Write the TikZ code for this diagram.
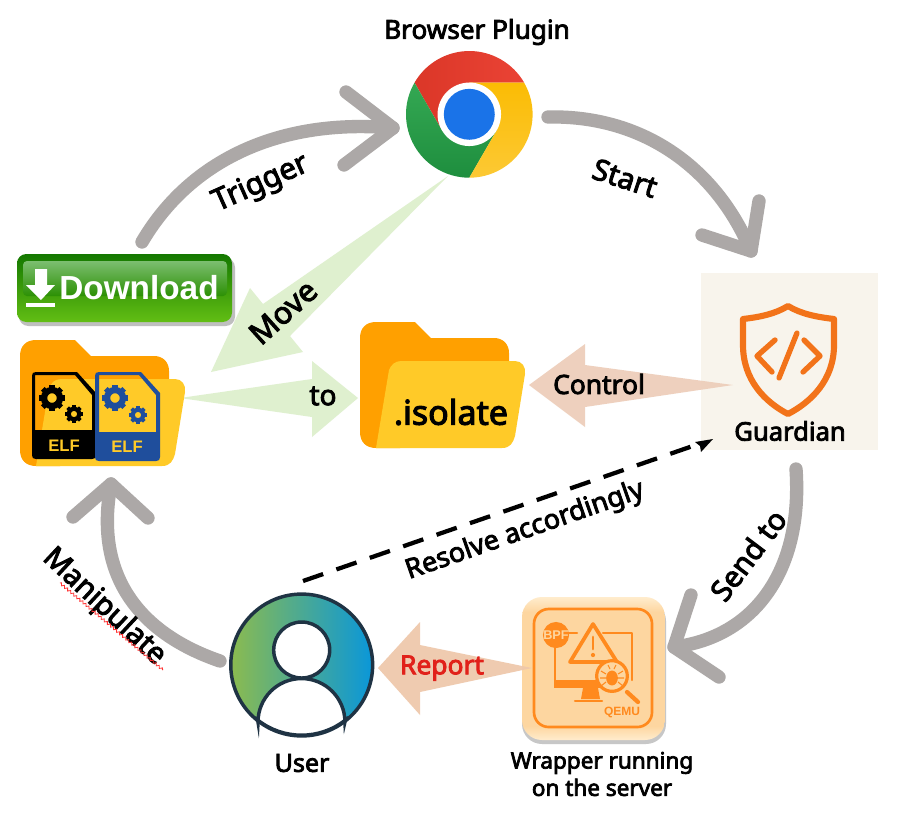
\documentclass[tikz,border=0pt]{standalone}
\usepackage{fontspec}
\setmainfont{Noto Sans}[FakeBold=3.2]
\newfontfamily\dlfont{Liberation Sans}
\usetikzlibrary{calc,decorations.pathmorphing}
\definecolor{grayarr}{HTML}{ACA8A7}
\definecolor{greenarr}{HTML}{DFF0CF}
\definecolor{peach}{HTML}{EDCDB9}
\definecolor{folderback}{HTML}{FFA000}
\definecolor{folderfront}{HTML}{FFCA28}
\definecolor{elfblue}{HTML}{1F4E9C}
\definecolor{guardbg}{HTML}{F8F4EC}
\definecolor{guardor}{HTML}{F2731A}
\definecolor{iconor}{HTML}{FF8A1E}
\definecolor{iconbg}{HTML}{FDD6A0}
\definecolor{iconhi}{HTML}{FFECCD}
\definecolor{userline}{HTML}{1F3344}
\definecolor{usergreen}{HTML}{8BBB4F}
\definecolor{userblue}{HTML}{0A97D9}
\definecolor{btntop}{HTML}{147800}
\definecolor{btnbot}{HTML}{62BE14}
\definecolor{glosstop}{HTML}{7CBE70}
\definecolor{glossbot}{HTML}{2C9004}
\definecolor{chrredA}{HTML}{DB3728}
\definecolor{chrredB}{HTML}{EA4335}
\definecolor{chrgreenA}{HTML}{34A853}
\definecolor{chrgreenB}{HTML}{1E8E3E}
\definecolor{chryelA}{HTML}{FBBC04}
\definecolor{chryelB}{HTML}{FCC934}
\definecolor{chrblue}{HTML}{1A73E8}
\definecolor{reportred}{HTML}{E1211A}
\tikzset{
  x=0.75pt,y=-0.75pt,
  curvearrow/.style={draw=grayarr,line width=10pt,line cap=round,line join=round},
  blockarrow/.style={fill=greenarr,draw=none},
  peacharrow/.style={fill=peach,draw=none,fill opacity=.92},
  lab/.style={inner sep=0pt,text=black,font=\fontsize{20}{24}\selectfont},
  elftext/.style={inner sep=0pt,font=\dlfont\bfseries\fontsize{12.5}{14}\selectfont,text=folderfront},
  shieldline/.style={draw=guardor,line width=4.6pt,line cap=round,line join=round}
}
\newcommand{\foldershape}{%
  \fill[folderback] (20,356) .. controls (20,346) and (26,340) .. (36,340) -- (75,340) -- (91,356) -- (154,356)
    .. controls (163,356) and (169,362) .. (169,371) -- (169,400) -- (60,466) -- (36,466)
    .. controls (26,466) and (20,460) .. (20,450) -- cycle;
  \fill[folderfront] (36,466) -- (49,388) .. controls (51,383) and (55,379) .. (61,379) -- (175,379)
    .. controls (182,379) and (186,385) .. (185,392) -- (175,454) .. controls (173,461) and (170,466) .. (162,466) -- cycle;
}
\newcommand{\gearicon}[4]{%
  \draw[#4,line width=0.36*#3pt] (#1,#2) circle[radius=0.46*#3pt];
  \foreach \a in {0,45,...,315}
    \draw[#4,line width=0.3*#3pt] ($(#1,#2)+(\a:0.7*#3)$) -- ($(#1,#2)+(\a:1.0*#3)$);
}
\begin{document}
\begin{tikzpicture}
\useasboundingbox (0,0) rectangle (905,815);
\fill[white] (0,0) rectangle (905,815);

% Guardian background
\fill[guardbg] (701,273) rectangle (878,450);

% Named attachment points
\coordinate (trigS) at (142,242);
\coordinate (trigT) at (393,128);
\coordinate (trigA) at (346,92);
\coordinate (trigB) at (344,165);
\coordinate (startS) at (548,117);
\coordinate (startT) at (751,251);
\coordinate (startA) at (759,201);
\coordinate (startB) at (702,235);
\coordinate (sendS) at (796,469);
\coordinate (sendT) at (674,647);
\coordinate (sendA) at (691,595);
\coordinate (sendB) at (719,677);
\coordinate (manS) at (220,661);
\coordinate (manT) at (111,484);
\coordinate (manA) at (73,517);
\coordinate (manB) at (148,518);
\coordinate (resS) at (303,581);
\coordinate (resT) at (713,439);

% Curved gray arrows
\draw[curvearrow] (trigS) .. controls (190,160) and (280,118) .. (trigT);
\draw[curvearrow] (trigA) -- (trigT) -- (trigB);
\draw[curvearrow] (startS) .. controls (640,115) and (715,165) .. (startT);
\draw[curvearrow] (startA) -- (startT) -- (startB);
\draw[curvearrow] (sendS) .. controls (803,570) and (755,637) .. (sendT);
\draw[curvearrow] (sendA) -- (sendT) -- (sendB);
\draw[curvearrow] (manS) .. controls (150,637) and (92,585) .. (manT);
\draw[curvearrow] (manA) -- (manT) -- (manB);

% Green block arrows
\fill[blockarrow] (448,176) -- (290,336) -- (303,352) -- (211,372) -- (250,288) -- (263,304) -- cycle;
\fill[blockarrow] (180,398) -- (312,379) -- (312,361) -- (358,398) -- (312,437) -- (312,417) -- cycle;

% Folders
\foldershape
\begin{scope}[shift={(340,-18)}]
\foldershape
\end{scope}

% ELF files
\fill[black,even odd rule] (32,376) .. controls (32,373) and (33,372) .. (36,372) -- (77,372) -- (96,393) -- (96,455) .. controls (96,458) and (95,459) .. (92,459) -- (36,459) .. controls (33,459) and (32,458) .. (32,455) -- cycle
  (35,375) -- (75,375) -- (92,395) -- (92,430) -- (35,430) -- cycle;
\gearicon{52}{398}{13}{black}
\gearicon{74}{414}{9}{black}
\node[elftext] (elfa) at (64,446) {ELF};
\fill[elfblue,even odd rule] (95,376) .. controls (95,373) and (96,372) .. (99,372) -- (141,372) -- (160,393) -- (160,457) .. controls (160,460) and (159,461) .. (156,461) -- (99,461) .. controls (96,461) and (95,460) .. (95,457) -- cycle
  (99,375) -- (139,375) -- (156,395) -- (156,432) -- (99,432) -- cycle;
\gearicon{115}{398}{13}{elfblue}
\gearicon{138}{415}{9}{elfblue}
\node[elftext] (elfb) at (127,447) {ELF};

% Download button
\fill[black!25,rounded corners=7pt] (19,258) rectangle (235,326);
\shade[rounded corners=7pt,top color=btntop,bottom color=btnbot] (17,254) rectangle (232,322);
\shade[rounded corners=3pt,top color=glosstop,bottom color=glossbot] (23,261) rectangle (227,296);
\fill[white] (35,269) -- (47,269) -- (47,285) -- (55,285) -- (41,300) -- (26,285) -- (35,285) -- cycle;
\fill[white] (26,303) rectangle (55,307);
\node[inner sep=0pt,text=white,font=\dlfont\bfseries\fontsize{25}{30}\selectfont] (dl) at (139,288) {Download};

% Chrome
\coordinate (cc) at (469.3,114.3);
\shade[left color=chrredA,right color=chrredB]
  (414.5,82.7) arc[start angle=150,end angle=30,radius=47.5pt] -- (469.3,82.6) -- (441.9,130.2) -- cycle;
\shade[top color=chrgreenA,bottom color=chrgreenB]
  (414.5,82.7) arc[start angle=150,end angle=270,radius=47.5pt] -- (496.8,130.2) -- (441.9,130.2) -- cycle;
\shade[top color=chryelA,bottom color=chryelB]
  (524.1,82.7) arc[start angle=30,end angle=-90,radius=47.5pt] -- (496.8,130.2) -- (469.3,82.6) -- cycle;
\fill[white] (cc) circle[radius=23.8pt];
\fill[chrblue] (cc) circle[radius=19.1pt];

% Shield
\draw[shieldline] (788,306) .. controls (775,314) and (760,317) .. (743,319) -- (743,345)
  .. controls (743,380) and (765,402) .. (788,414)
  .. controls (811,402) and (834,380) .. (834,345) -- (834,319)
  .. controls (817,317) and (801,314) .. (788,306) -- cycle;
\draw[shieldline,line width=4pt] (775,340) -- (757,356) -- (772,372);
\draw[shieldline,line width=4pt] (804,340) -- (820,356) -- (803,372);
\draw[shieldline,line width=4pt] (797,333) -- (779,378);

% Control arrow
\fill[peacharrow] (733,385) -- (585,407) -- (585,427) -- (529,385) -- (585,344) -- (585,365) -- cycle;

% Dashed arrow
\draw[line width=3.2pt,dash pattern=on 16pt off 10.5pt] (resS) -- ($(resT)!0.04!(resS)$);
\fill[black] (resT) -- (695,442) -- (700,446) -- (701,452) -- cycle;

% User
\shade[left color=usergreen,right color=userblue] (301.7,665) circle[radius=53.2pt];
\draw[userline,line width=2.6pt] (301.7,665) circle[radius=53.2pt];
\draw[userline,line width=2.6pt,fill=white] (258,722) arc[start angle=180,end angle=0,radius=32.6pt] -- (345.4,720)
  arc[start angle=-51.8,end angle=-128.2,radius=53.2pt] -- cycle;
\draw[userline,line width=2.6pt,fill=white] (301.7,650) circle[radius=21pt];

% Wrapper icon
\fill[black!22,rounded corners=15pt] (522,601) rectangle (666,744);
\begin{scope}
\clip[rounded corners=15pt] (522,597) rectangle (665,740);
\shade[top color=iconhi,bottom color=iconbg] (522,597) rectangle (665,612);
\fill[iconbg] (522,612) rectangle (665,726);
\shade[top color=iconbg,bottom color=iconhi] (522,726) rectangle (665,740);
\end{scope}
\draw[iconor,line width=2pt,rounded corners=11pt] (534,609) rectangle (652,727);
\fill[iconor] (556,635) circle[radius=9.8pt];
\node[inner sep=0pt,text=iconbg,font=\dlfont\bfseries\fontsize{9.5}{10}\selectfont] (bpf) at (556,635) {BPF};
\draw[iconor,line width=1.6pt,line cap=round] (568,633) -- (577,633);
\draw[iconor,line width=1.6pt,line cap=round,line join=round] (603,633) -- (632,633) -- (632,680);
\draw[iconor,line width=1.6pt] (555,646) -- (555,684);
\fill[iconor] (554,680) -- (600,680) -- (600,688) -- (554,688) -- cycle;
\fill[iconor] (583,688) -- (598,688) -- (600,699) -- (581,699) -- cycle;
\draw[iconor,line width=1.6pt,line cap=round] (575,701) -- (602,701);
\draw[iconor,line width=2.8pt,line cap=round,line join=round,fill=iconbg] (593,624) -- (617,662) -- (570,662) -- cycle;
\draw[iconor,line width=2.2pt,line cap=round] (593,637) -- (593,649);
\fill[iconor] (593,655) circle[radius=1.6pt];
\draw[iconor,line width=2.4pt,fill=iconbg] (612,676) circle[radius=11.5pt];
\fill[iconor] (612,678) ellipse[x radius=4.4pt,y radius=5.6pt];
\draw[iconor,line width=.8pt] (601,671) -- (606,674) (623,671) -- (618,674) (600,678) -- (606,678) (624,678) -- (618,678) (601,686) -- (606,682) (623,686) -- (618,682) (608,665) -- (610,669) (616,665) -- (614,669);
\draw[iconor,line width=3.2pt,line cap=round] (627,692) -- (638,702);
\node[inner sep=0pt,text=iconor,font=\dlfont\bfseries\fontsize{9}{10}\selectfont] (qemu) at (622,712) {QEMU};

% Report arrow
\fill[peacharrow,fill=peach!92!orange] (532,668) -- (420,692) -- (420,715) -- (378,668) -- (420,622) -- (420,645) -- cycle;

% Labels
\node[lab,font=\fontsize{19.6}{24}\selectfont] (browser) at (477,32) {Browser Plugin};
\node[lab,font=\fontsize{22.5}{26}\selectfont,rotate=24] (trigger) at (261,184) {Trigger};
\node[lab,font=\fontsize{22}{26}\selectfont,rotate=-18] (start) at (625,178) {Start};
\node[lab,font=\fontsize{23}{27}\selectfont,rotate=42] (move) at (283,312) {Move};
\node[lab,font=\fontsize{21}{25}\selectfont] (to) at (323,396) {to};
\node[lab,font=\fontsize{25.5}{30}\selectfont] (isolate) at (451,412) {.isolate};
\node[lab,font=\fontsize{19.8}{24}\selectfont] (control) at (599,384) {Control};
\node[lab,font=\fontsize{19.2}{23}\selectfont] (guardian) at (790,431) {Guardian};
\node[lab,font=\fontsize{20.3}{24}\selectfont,rotate=19.3] (resolve) at (525,531) {Resolve accordingly};
\node[lab,font=\fontsize{22}{26}\selectfont,rotate=53] (sendto) at (748,555) {Send to};
\node[lab,text=reportred,font=\fontsize{19.8}{24}\selectfont] (report) at (442,668) {Report};
\node[lab,font=\fontsize{22}{25}\selectfont,rotate=-43] (manip) at (104,607) {Manipulate};
\coordinate (sqa) at (60,583);
\coordinate (sqb) at (163,670);
\draw[red!80,line width=.6pt,decorate,decoration={zigzag,amplitude=.9pt,segment length=3pt}] (sqa) -- (sqb);
\node[lab,font=\fontsize{18.8}{23}\selectfont] (user) at (302,763) {User};
\node[lab,font=\fontsize{16.9}{20.5}\selectfont,align=center] (wrapper) at (602,774) {Wrapper running\\on the server};
\end{tikzpicture}
\end{document}
